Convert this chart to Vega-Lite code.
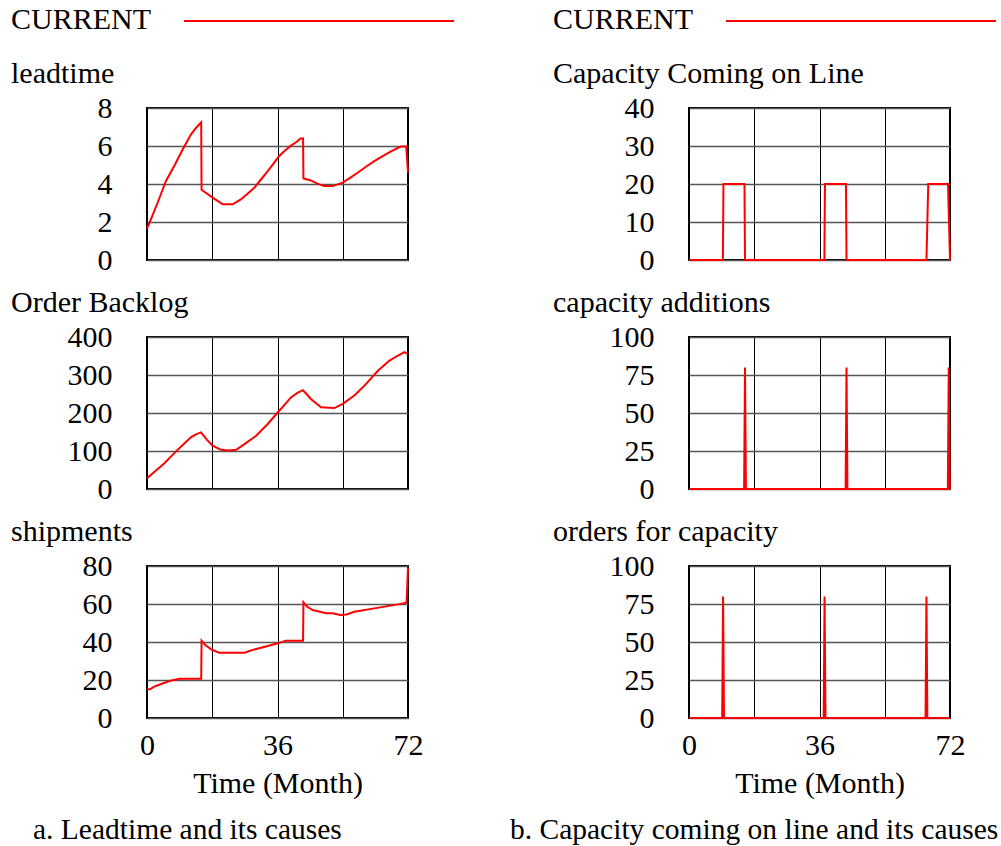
{
  "$schema": "https://vega.github.io/schema/vega-lite/v6.json",
  "background": "white",
  "padding": {"left": 10, "top": 15, "right": 0, "bottom": 0},
  "datasets": {
    "leadtime": [
      {"t": 0, "v": 1.65}, {"t": 1.1, "v": 2.15}, {"t": 2.9, "v": 3.0}, {"t": 5.2, "v": 4.15}, {"t": 7.5, "v": 4.95},
      {"t": 9.8, "v": 5.8}, {"t": 12.1, "v": 6.6}, {"t": 13.5, "v": 6.95}, {"t": 14.95, "v": 7.25}, {"t": 15.05, "v": 3.7},
      {"t": 16.5, "v": 3.5}, {"t": 18.1, "v": 3.28}, {"t": 20.9, "v": 2.93}, {"t": 23.6, "v": 2.93}, {"t": 25.9, "v": 3.19},
      {"t": 27.5, "v": 3.45}, {"t": 29.6, "v": 3.8}, {"t": 31.5, "v": 4.25}, {"t": 33.3, "v": 4.68}, {"t": 35, "v": 5.1},
      {"t": 36.4, "v": 5.46}, {"t": 38, "v": 5.75}, {"t": 39.7, "v": 6.02}, {"t": 41.5, "v": 6.25}, {"t": 42.3, "v": 6.39},
      {"t": 43.05, "v": 6.39}, {"t": 43.15, "v": 4.29}, {"t": 45, "v": 4.2}, {"t": 47, "v": 4.02}, {"t": 48.9, "v": 3.89},
      {"t": 51.2, "v": 3.89}, {"t": 54, "v": 4.07}, {"t": 56, "v": 4.32}, {"t": 58.1, "v": 4.59}, {"t": 60.5, "v": 4.92},
      {"t": 62.7, "v": 5.2}, {"t": 65, "v": 5.47}, {"t": 67.3, "v": 5.72}, {"t": 70, "v": 5.97}, {"t": 71.5, "v": 5.97},
      {"t": 72, "v": 4.6}
    ],
    "backlog": [
      {"t": 0, "v": 28}, {"t": 2.4, "v": 48}, {"t": 4.8, "v": 68}, {"t": 8, "v": 99}, {"t": 10, "v": 117},
      {"t": 12.1, "v": 136}, {"t": 13.5, "v": 144}, {"t": 14.9, "v": 149}, {"t": 16.5, "v": 130}, {"t": 18.1, "v": 114},
      {"t": 20.4, "v": 103}, {"t": 22.5, "v": 101}, {"t": 24.6, "v": 103}, {"t": 26.9, "v": 118}, {"t": 30.1, "v": 140},
      {"t": 33.3, "v": 171}, {"t": 36.1, "v": 202}, {"t": 38, "v": 222}, {"t": 39.7, "v": 241}, {"t": 41.5, "v": 253},
      {"t": 43, "v": 260}, {"t": 44, "v": 250}, {"t": 45.2, "v": 237}, {"t": 48, "v": 215}, {"t": 51.7, "v": 213},
      {"t": 54, "v": 224}, {"t": 57.2, "v": 246}, {"t": 60, "v": 272}, {"t": 63.7, "v": 311}, {"t": 66.9, "v": 338},
      {"t": 69, "v": 350}, {"t": 71, "v": 360}, {"t": 72, "v": 355}
    ],
    "shipments": [
      {"t": 0, "v": 15.1}, {"t": 0.8, "v": 15.1}, {"t": 2, "v": 16.5}, {"t": 3.9, "v": 17.9}, {"t": 6.2, "v": 19.5},
      {"t": 8.9, "v": 20.7}, {"t": 14.95, "v": 20.7}, {"t": 15.05, "v": 40.7}, {"t": 16, "v": 38.5}, {"t": 17.7, "v": 36.1},
      {"t": 19.9, "v": 34.4}, {"t": 26.9, "v": 34.4}, {"t": 29.6, "v": 36.1}, {"t": 33.3, "v": 37.9}, {"t": 36.1, "v": 39.3},
      {"t": 38.3, "v": 40.7}, {"t": 43.05, "v": 40.7}, {"t": 43.15, "v": 60.9}, {"t": 44.2, "v": 58.5}, {"t": 45.7, "v": 56.8},
      {"t": 49.4, "v": 55.1}, {"t": 51.2, "v": 55.1}, {"t": 53.3, "v": 54.2}, {"t": 55, "v": 54.5}, {"t": 57.2, "v": 55.9},
      {"t": 62.7, "v": 57.7}, {"t": 69.2, "v": 59.8}, {"t": 71.6, "v": 60.7}, {"t": 72, "v": 79}
    ],
    "coming": [
      {"t": 0, "v": 0}, {"t": 9.35, "v": 0}, {"t": 9.5, "v": 20}, {"t": 15.3, "v": 20}, {"t": 15.45, "v": 0},
      {"t": 37.35, "v": 0}, {"t": 37.5, "v": 20}, {"t": 43.3, "v": 20}, {"t": 43.45, "v": 0},
      {"t": 65.5, "v": 0}, {"t": 66, "v": 20}, {"t": 71.45, "v": 20}, {"t": 72, "v": 0}
    ],
    "additions": [
      {"t": 0, "v": 0}, {"t": 15.2, "v": 0}, {"t": 15.45, "v": 80}, {"t": 15.7, "v": 0},
      {"t": 43.2, "v": 0}, {"t": 43.45, "v": 80}, {"t": 43.7, "v": 0},
      {"t": 71.4, "v": 0}, {"t": 71.65, "v": 80}, {"t": 71.9, "v": 0}, {"t": 72, "v": 0}
    ],
    "orders": [
      {"t": 0, "v": 0}, {"t": 9.15, "v": 0}, {"t": 9.4, "v": 80}, {"t": 9.65, "v": 0},
      {"t": 37.15, "v": 0}, {"t": 37.4, "v": 80}, {"t": 37.65, "v": 0},
      {"t": 65.25, "v": 0}, {"t": 65.5, "v": 80}, {"t": 65.75, "v": 0}, {"t": 72, "v": 0}
    ]
  },
  "hconcat": [
    {
      "title": {"text": "a. Leadtime and its causes", "orient": "bottom", "anchor": "start", "frame": "bounds", "dx": 23, "font": "Liberation Serif", "fontSize": 29.5, "offset": 17},
      "spacing": 11,
      "vconcat": [
        {
          "width": 261, "height": 152,
          "title": "leadtime",
          "data": {"name": "leadtime"},
          "mark": "line",
          "encoding": {
            "x": {"field": "t", "type": "quantitative", "scale": {"domain": [0, 72], "nice": false}, "axis": {"values": [0, 18, 36, 54, 72], "labels": false, "title": null}},
            "y": {"field": "v", "type": "quantitative", "scale": {"domain": [0, 8]}, "axis": {"values": [0, 2, 4, 6, 8], "title": null}},
            "color": {"datum": "CURRENT", "scale": {"range": ["#ff0000"]}, "legend": {"title": "CURRENT"}}
          }
        },
        {
          "width": 261, "height": 152,
          "title": "Order Backlog",
          "data": {"name": "backlog"},
          "mark": "line",
          "encoding": {
            "x": {"field": "t", "type": "quantitative", "scale": {"domain": [0, 72], "nice": false}, "axis": {"values": [0, 18, 36, 54, 72], "labels": false, "title": null}},
            "y": {"field": "v", "type": "quantitative", "scale": {"domain": [0, 400]}, "axis": {"values": [0, 100, 200, 300, 400], "title": null}},
            "color": {"datum": "CURRENT", "scale": {"range": ["#ff0000"]}, "legend": {"title": "CURRENT"}}
          }
        },
        {
          "width": 261, "height": 152,
          "title": "shipments",
          "data": {"name": "shipments"},
          "mark": "line",
          "encoding": {
            "x": {"field": "t", "type": "quantitative", "scale": {"domain": [0, 72], "nice": false}, "axis": {"values": [0, 18, 36, 54, 72], "labelExpr": "datum.value % 36 == 0 ? datum.label : ''", "title": "Time (Month)"}},
            "y": {"field": "v", "type": "quantitative", "scale": {"domain": [0, 80]}, "axis": {"values": [0, 20, 40, 60, 80], "title": null}},
            "color": {"datum": "CURRENT", "scale": {"range": ["#ff0000"]}, "legend": {"title": "CURRENT"}}
          }
        }
      ]
    },
    {
      "title": {"text": "b. Capacity coming on line and its causes", "orient": "bottom", "anchor": "start", "frame": "bounds", "dx": -42, "font": "Liberation Serif", "fontSize": 29.5, "offset": 17},
      "spacing": 11,
      "vconcat": [
        {
          "width": 261, "height": 152,
          "title": "Capacity Coming on Line",
          "data": {"name": "coming"},
          "mark": "line",
          "encoding": {
            "x": {"field": "t", "type": "quantitative", "scale": {"domain": [0, 72], "nice": false}, "axis": {"values": [0, 18, 36, 54, 72], "labels": false, "title": null}},
            "y": {"field": "v", "type": "quantitative", "scale": {"domain": [0, 40]}, "axis": {"values": [0, 10, 20, 30, 40], "title": null}},
            "color": {"datum": "CURRENT", "scale": {"range": ["#ff0000"]}, "legend": {"title": "CURRENT"}}
          }
        },
        {
          "width": 261, "height": 152,
          "title": "capacity additions",
          "data": {"name": "additions"},
          "mark": "line",
          "encoding": {
            "x": {"field": "t", "type": "quantitative", "scale": {"domain": [0, 72], "nice": false}, "axis": {"values": [0, 18, 36, 54, 72], "labels": false, "title": null}},
            "y": {"field": "v", "type": "quantitative", "scale": {"domain": [0, 100]}, "axis": {"values": [0, 25, 50, 75, 100], "title": null}},
            "color": {"datum": "CURRENT", "scale": {"range": ["#ff0000"]}, "legend": {"title": "CURRENT"}}
          }
        },
        {
          "width": 261, "height": 152,
          "title": "orders for capacity",
          "data": {"name": "orders"},
          "mark": "line",
          "encoding": {
            "x": {"field": "t", "type": "quantitative", "scale": {"domain": [0, 72], "nice": false}, "axis": {"values": [0, 18, 36, 54, 72], "labelExpr": "datum.value % 36 == 0 ? datum.label : ''", "title": "Time (Month)"}},
            "y": {"field": "v", "type": "quantitative", "scale": {"domain": [0, 100]}, "axis": {"values": [0, 25, 50, 75, 100], "title": null}},
            "color": {"datum": "CURRENT", "scale": {"range": ["#ff0000"]}, "legend": {"title": "CURRENT"}}
          }
        }
      ]
    }
  ],
  "spacing": 52,
  "resolve": {"scale": {"color": "independent"}, "legend": {"color": "independent"}},
  "config": {
    "font": "Liberation Serif",
    "view": {"stroke": "black", "strokeWidth": 2},
    "line": {"strokeWidth": 2},
    "axis": {"labelFont": "Liberation Serif", "labelFontSize": 30, "labelColor": "black", "ticks": false, "tickSize": 0, "domain": false, "titleFont": "Liberation Serif", "titleFontSize": 30, "titleFontWeight": "normal", "titleColor": "black"},
    "axisX": {"gridColor": "black", "gridWidth": 1, "gridOpacity": 1, "labelPadding": 12, "labelFlush": false, "titlePadding": 8},
    "axisY": {"gridColor": "#555555", "gridWidth": 1.5, "gridOpacity": 1, "labelPadding": 35},
    "title": {"font": "Liberation Serif", "fontSize": 30, "fontWeight": "normal", "anchor": "start", "frame": "group", "dx": -136, "color": "black", "offset": 4},
    "legend": {"orient": "none", "legendX": -136, "legendY": -93, "titleOrient": "left", "titleFont": "Liberation Serif", "titleFontSize": 30, "titleFontWeight": "normal", "titleColor": "black", "titlePadding": 26, "symbolType": "M0,0H54", "symbolSize": 100, "symbolStrokeWidth": 2, "symbolFillColor": "transparent", "labelOpacity": 0, "labelFontSize": 1, "labelExpr": "''", "padding": 0}
  }
}
